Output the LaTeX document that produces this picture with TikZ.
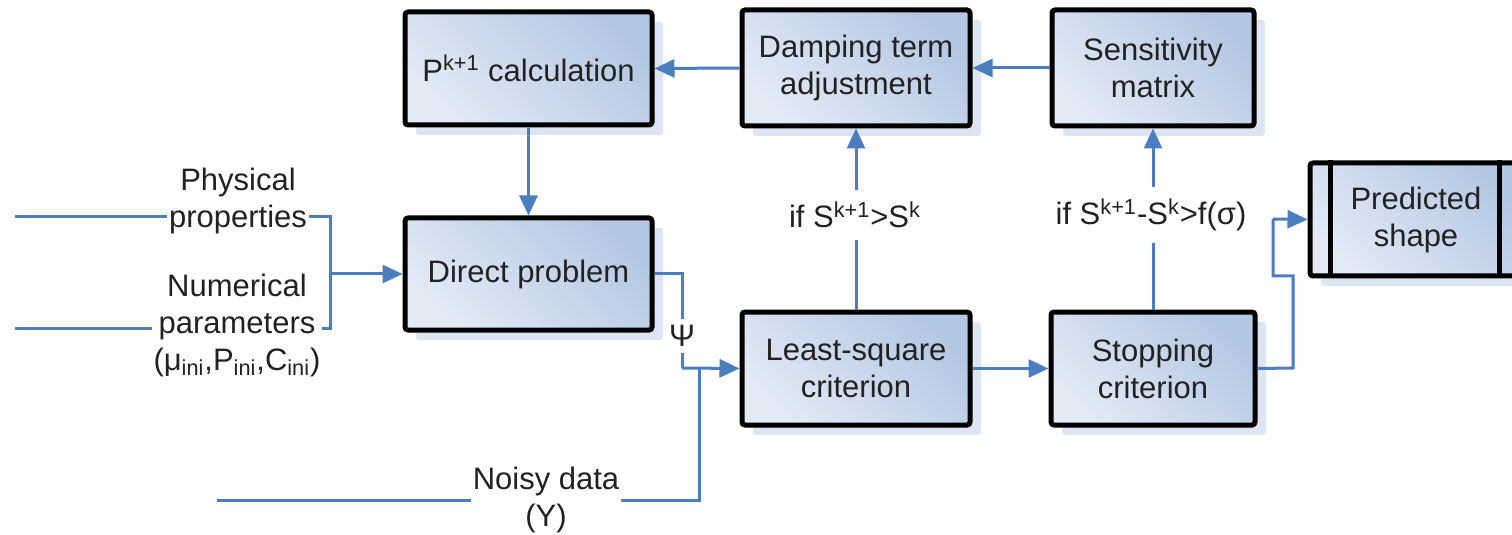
\documentclass[tikz,border=0pt]{standalone}
\usepackage{fontspec}
\setmainfont{Liberation Sans}
\usetikzlibrary{arrows.meta,shadows,calc}
\definecolor{boxlight}{HTML}{E2EAF6}
\definecolor{boxdark}{HTML}{B4C7E2}
\definecolor{shadowblue}{HTML}{DCE5F1}
\definecolor{linkblue}{HTML}{4A7EBE}
\definecolor{txt}{HTML}{222222}
\tikzset{
  blk/.style={draw=black, line width=2.5pt, rounded corners=1.5pt,
    left color=boxlight, right color=boxdark, shading angle=135,
    drop shadow={shadow xshift=5.5pt, shadow yshift=-5pt, fill=shadowblue, opacity=1, draw=none},
    align=center, text=txt, inner sep=0pt,
    font=\fontsize{15.5pt}{18.5pt}\selectfont},
  conn/.style={draw=linkblue, line width=1.5pt},
  arr/.style={conn, -{Triangle[length=10pt,width=9pt]}},
  lbl/.style={fill=white, text=txt, align=center, inner sep=1pt,
    font=\fontsize{15.5pt}{18.5pt}\selectfont},
}
\begin{document}
\begin{tikzpicture}[x=0.5pt, y=-0.5pt]
\useasboundingbox (0,0) rectangle (1512,535);
% boxes
\node[blk, minimum width=123.5pt, minimum height=56.5pt] (pcalc) at (528.5,68.5) {P\textsuperscript{k+1} calculation};
\node[blk, minimum width=114pt, minimum height=58pt] (damp) at (856,68) {Damping term\\adjustment};
\node[blk, minimum width=101pt, minimum height=58pt] (sens) at (1153,68) {Sensitivity\\matrix};
\node[blk, minimum width=123.5pt, minimum height=56pt] (direct) at (528.5,274) {Direct problem};
\node[blk, minimum width=114pt, minimum height=56.5pt] (lsq) at (856,368.5) {Least-square\\criterion};
\node[blk, minimum width=102pt, minimum height=56.5pt] (stop) at (1153,368.5) {Stopping\\criterion};
\node[blk, minimum width=106pt, minimum height=56.5pt, text width=80pt] (pred) at (1416,219.5) {Predicted\\shape};
\draw[line width=2.5pt] ($(pred.north west)+(23,0)$) -- ($(pred.south west)+(23,0)$);
\draw[line width=2.5pt] ($(pred.north east)+(-25,0)$) -- ($(pred.south east)+(-25,0)$);
% coordinates
\coordinate (in1) at (15,217);
\coordinate (in2) at (15,328);
\coordinate (c1) at (330,217);
\coordinate (c2) at (330,328);
\coordinate (j1) at (330,274);
\coordinate (p1) at (682,274);
\coordinate (p2) at (682,368);
\coordinate (ny0) at (217,500);
\coordinate (ny1) at (699,500);
\coordinate (ny2) at (699,368);
\coordinate (s1) at (1293,368);
\coordinate (s2) at (1293,276);
\coordinate (s3) at (1273,276);
\coordinate (s4) at (1273,219);
% connectors
\draw[arr] (damp.west) -- (pcalc.east);
\draw[arr] (sens.west) -- (damp.east);
\draw[arr] (pcalc.south) -- (direct.north);
\draw[arr] (lsq.north) -- (damp.south);
\draw[arr] (stop.north) -- (sens.south);
\draw[arr] (lsq.east) -- (stop.west);
\draw[conn] (in1) -- (c1) -- (c2) -- (in2);
\draw[arr] (j1) -- (direct.west);
\draw[conn] (direct.east) -- (p1) -- (p2);
\draw[arr] (p2) -- (lsq.west);
\draw[conn] (ny0) -- (ny1) -- (ny2);
\draw[conn] (stop.east) -- (s1) -- (s2) -- (s3) -- (s4);
\draw[arr] (s4) -- (pred.west);
% labels
\node[lbl] (lphys) at (238,201) {Physical\\properties};
\node[lbl] (lnum) at (237,325) {Numerical\\parameters\\(μ\textsubscript{ini},P\textsubscript{ini},C\textsubscript{ini})};
\node[lbl] (lnoisy) at (546,500) {Noisy data\\(Y)};
\node[lbl, inner sep=3pt] (lpsi) at (682,336) {Ψ};
\node[lbl, inner ysep=6pt] (lif1) at (855,215) {if S\textsuperscript{k+1}>S\textsuperscript{k}};
\node[lbl, inner ysep=6pt] (lif2) at (1151,215) {if S\textsuperscript{k+1}-S\textsuperscript{k}>f(σ)};
\end{tikzpicture}
\end{document}
